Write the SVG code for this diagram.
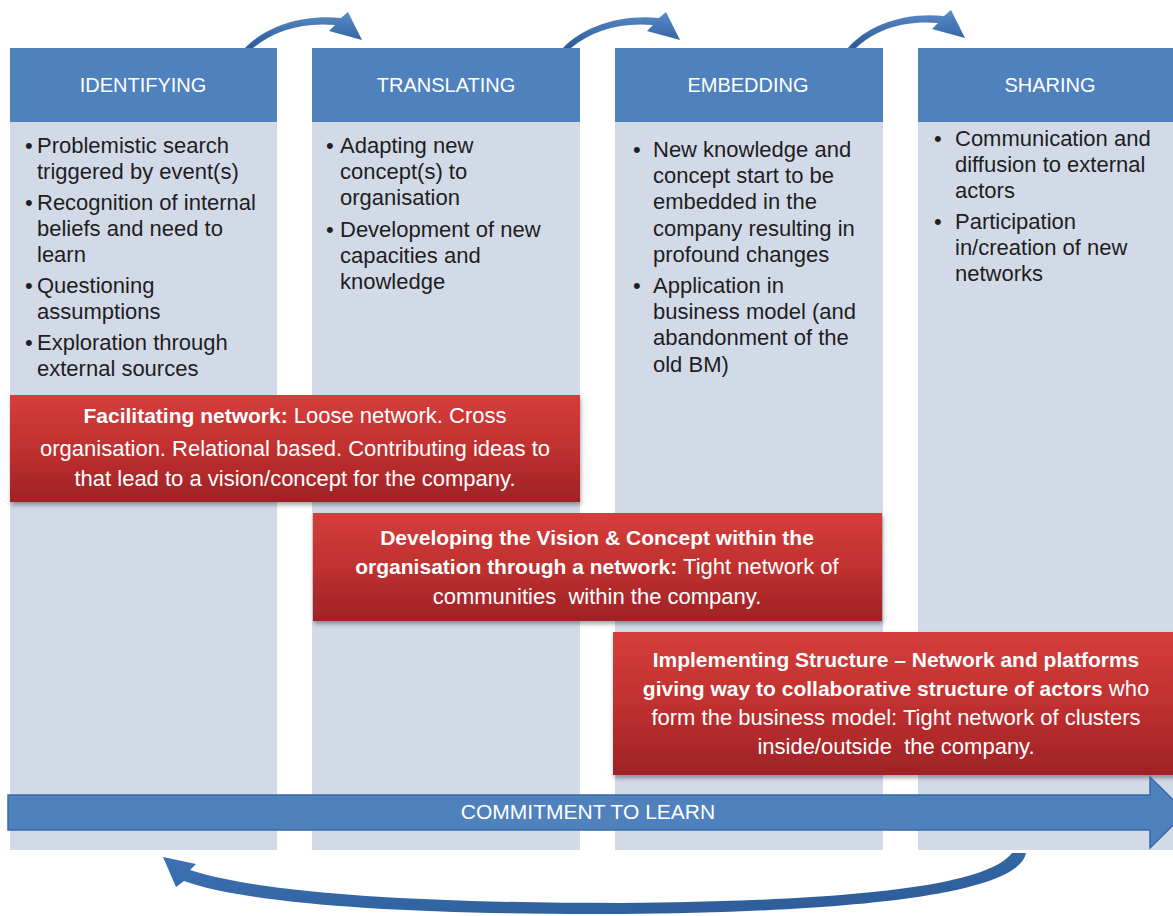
<svg xmlns="http://www.w3.org/2000/svg" width="1173" height="916" viewBox="0 0 1173 916">
<style>
.hdr{fill:#4F81BD}
.body{fill:#D2DAE7}
.ht{font-family:"Liberation Sans",Arial,sans-serif;font-size:20px;fill:#FFFFFF;text-anchor:middle}
.bt{font-family:"Liberation Sans",Arial,sans-serif;font-size:22px;fill:#1E1E1E}
.rt{font-family:"Liberation Sans",Arial,sans-serif;font-size:22px;fill:#FFFFFF;text-anchor:middle;white-space:pre}
.b{font-weight:bold;font-size:21px}
.ct{font-family:"Liberation Sans",Arial,sans-serif;font-size:21px;fill:#FFFFFF;text-anchor:middle}
</style>
<defs>
<linearGradient id="red" x1="0" y1="0" x2="0" y2="1">
<stop offset="0" stop-color="#D43E3B"/>
<stop offset="0.5" stop-color="#C1302F"/>
<stop offset="1" stop-color="#9E2327"/>
</linearGradient>
<linearGradient id="blu" x1="0" y1="0" x2="1" y2="1">
<stop offset="0" stop-color="#3E72B4"/>
<stop offset="1" stop-color="#2A5A95"/>
</linearGradient>
<linearGradient id="blu2" x1="0" y1="0" x2="0" y2="1">
<stop offset="0" stop-color="#5A8CCB"/>
<stop offset="1" stop-color="#2B5A94"/>
</linearGradient>
<filter id="sh" x="-5%" y="-10%" width="110%" height="130%">
<feDropShadow dx="1" dy="3" stdDeviation="2" flood-color="#000" flood-opacity="0.35"/>
</filter>
</defs>

<g id="col-identifying">
<rect class="body" x="10" y="122" width="267" height="728"/>
<rect class="hdr" x="10" y="48" width="267" height="74"/>
<text class="ht" x="143" y="92">IDENTIFYING</text>
<text class="bt"><tspan x="25" y="153">•</tspan><tspan x="37" y="153">Problemistic search</tspan><tspan x="37" y="179">triggered by event(s)</tspan><tspan x="25" y="210">•</tspan><tspan x="37" y="210">Recognition of internal</tspan><tspan x="37" y="236">beliefs and need to</tspan><tspan x="37" y="262">learn</tspan><tspan x="25" y="293">•</tspan><tspan x="37" y="293">Questioning</tspan><tspan x="37" y="319">assumptions</tspan><tspan x="25" y="350">•</tspan><tspan x="37" y="350">Exploration through</tspan><tspan x="37" y="376">external sources</tspan></text>
</g>

<g id="col-translating">
<rect class="body" x="312" y="122" width="268" height="728"/>
<rect class="hdr" x="312" y="48" width="268" height="74"/>
<text class="ht" x="446" y="92">TRANSLATING</text>
<text class="bt"><tspan x="326" y="153">•</tspan><tspan x="340" y="153">Adapting new</tspan><tspan x="340" y="179">concept(s) to</tspan><tspan x="340" y="205">organisation</tspan><tspan x="326" y="237">•</tspan><tspan x="340" y="237">Development of new</tspan><tspan x="340" y="263">capacities and</tspan><tspan x="340" y="289">knowledge</tspan></text>
</g>

<g id="col-embedding">
<rect class="body" x="615" y="122" width="268" height="728"/>
<rect class="hdr" x="615" y="48" width="268" height="74"/>
<text class="ht" x="748" y="92">EMBEDDING</text>
<text class="bt"><tspan x="633" y="157">•</tspan><tspan x="653" y="157">New knowledge and</tspan><tspan x="653" y="183">concept start to be</tspan><tspan x="653" y="209">embedded in the</tspan><tspan x="653" y="236">company resulting in</tspan><tspan x="653" y="262">profound changes</tspan><tspan x="633" y="293">•</tspan><tspan x="653" y="293">Application in</tspan><tspan x="653" y="319">business model (and</tspan><tspan x="653" y="345">abandonment of the</tspan><tspan x="653" y="372">old BM)</tspan></text>
</g>

<g id="col-sharing">
<rect class="body" x="918" y="122" width="268" height="728"/>
<rect class="hdr" x="918" y="48" width="268" height="74"/>
<text class="ht" x="1050" y="92">SHARING</text>
<text class="bt"><tspan x="934" y="146">•</tspan><tspan x="955" y="146">Communication and</tspan><tspan x="955" y="172">diffusion to external</tspan><tspan x="955" y="198">actors</tspan><tspan x="934" y="229">•</tspan><tspan x="955" y="229">Participation</tspan><tspan x="955" y="255">in/creation of new</tspan><tspan x="955" y="281">networks</tspan></text>
</g>

<g id="facilitating-network">
<rect x="10" y="395" width="570" height="107" fill="url(#red)" filter="url(#sh)"/>
<text class="rt"><tspan x="295" y="423"><tspan class="b">Facilitating network:</tspan> Loose network. Cross</tspan><tspan x="295" y="456">organisation. Relational based. Contributing ideas to</tspan><tspan x="295" y="486">that lead to a vision/concept for the company.</tspan></text>
</g>

<g id="developing-vision">
<rect x="313" y="513" width="569" height="108" fill="url(#red)" filter="url(#sh)"/>
<text class="rt"><tspan x="597" y="545" class="b">Developing the Vision &amp; Concept within the</tspan><tspan x="597" y="574"><tspan class="b">organisation through a network:</tspan> Tight network of</tspan><tspan x="597" y="604">communities  within the company.</tspan></text>
</g>

<g id="implementing-structure">
<rect x="613" y="632" width="572" height="143" fill="url(#red)" filter="url(#sh)"/>
<text class="rt"><tspan x="896" y="667" class="b">Implementing Structure – Network and platforms</tspan><tspan x="896" y="696"><tspan class="b">giving way to collaborative structure of actors</tspan> who</tspan><tspan x="896" y="725">form the business model: Tight network of clusters</tspan><tspan x="896" y="754">inside/outside  the company.</tspan></text>
</g>

<g id="commitment-to-learn">
<polygon points="8,795 1150,795 1150,777 1186,812.5 1150,848 1150,830 8,830" fill="#4F81BD" stroke="#3A6AA5" stroke-width="1.5"/>
<text class="ct" x="588" y="819">COMMITMENT TO LEARN</text>
</g>

<g id="connectors">
<path d="M245,48 C264,28 300,14 341,18 L348,12 L362,40 L329,31 L335,25 C302,22 273,31 253,48 Z" fill="url(#blu2)"/>
<path transform="translate(318,0)" d="M245,48 C264,28 300,14 341,18 L348,12 L362,40 L329,31 L335,25 C302,22 273,31 253,48 Z" fill="url(#blu2)"/>
<path transform="translate(603,-2)" d="M245,50 C264,28 300,14 341,18 L348,12 L362,40 L329,31 L335,25 C302,22 273,31 253,50 Z" fill="url(#blu2)"/>
<path d="M1026,853 C1018,895 850,912 620,914 C420,915 250,905 184,881 L176,887 L163,857 L196,864 L190,870 C260,893 420,903 620,903 C840,901 985,888 1012,853 Z" fill="url(#blu)"/>
</g>
</svg>
